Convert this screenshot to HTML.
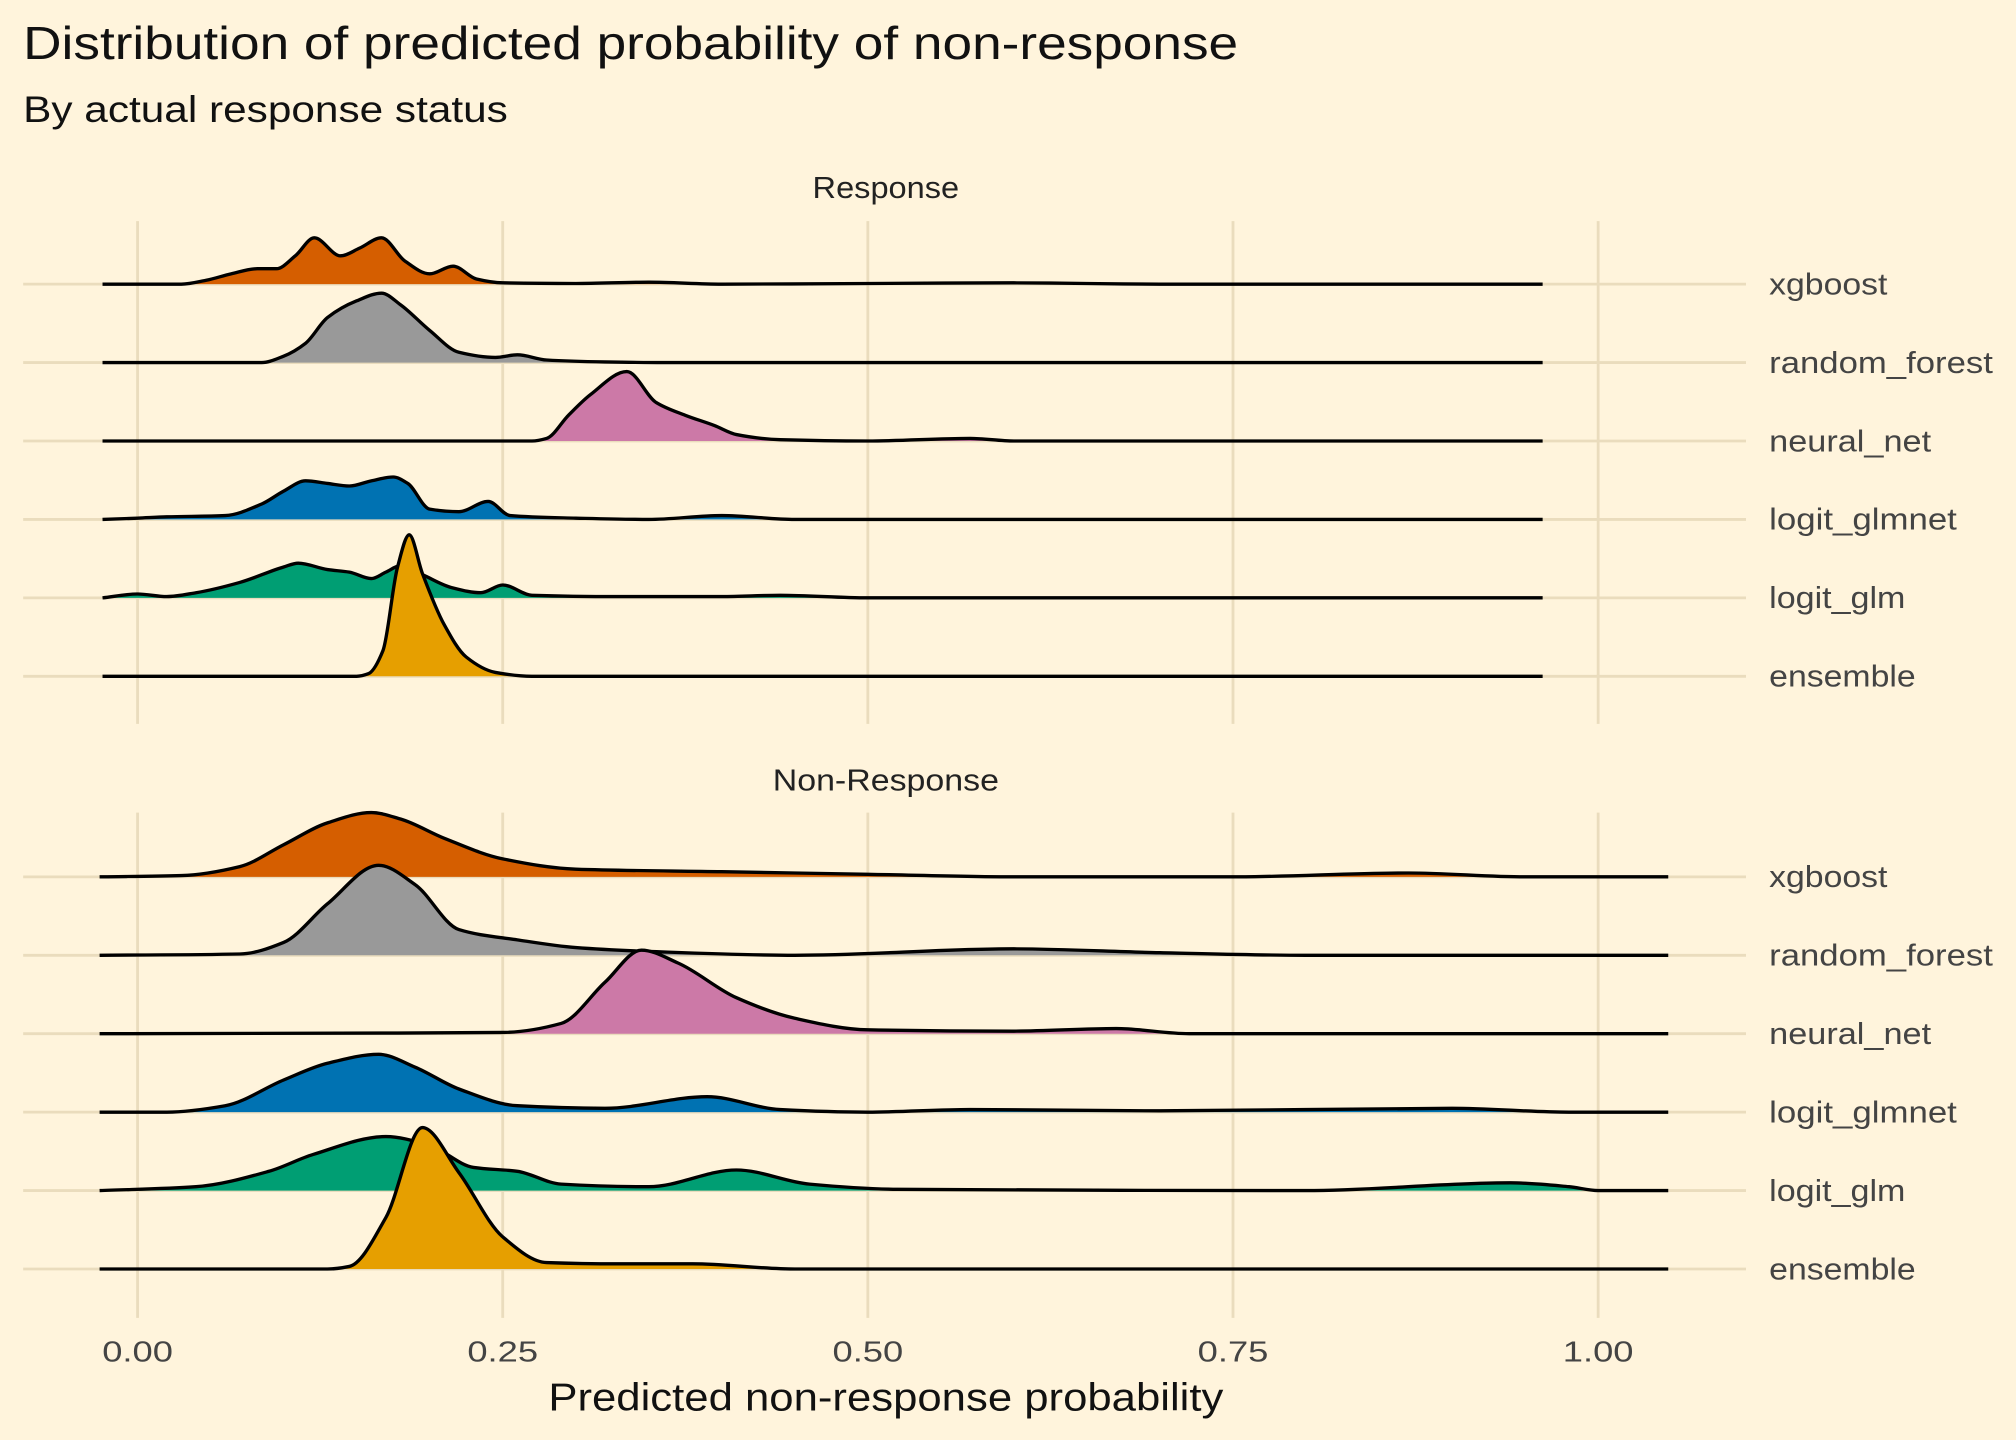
<!DOCTYPE html>
<html><head><meta charset="utf-8">
<style>
html,body{margin:0;padding:0;background:#fff4dc;}
svg{display:block;font-family:"Liberation Sans",sans-serif;}
</style></head>
<body>
<svg id="chart" width="2016" height="1440" viewBox="0 0 1568 1120" xmlns="http://www.w3.org/2000/svg">
<rect width="1568" height="1120" fill="#fff4dc"/>
<text x="18" y="46" font-size="36" textLength="945" lengthAdjust="spacingAndGlyphs" fill="#111">Distribution of predicted probability of non-response</text>
<text x="18" y="95" font-size="29" textLength="377" lengthAdjust="spacingAndGlyphs" fill="#111">By actual response status</text>
<text x="689" y="154" font-size="24" textLength="114" lengthAdjust="spacingAndGlyphs" fill="#222" text-anchor="middle">Response</text>
<text x="689" y="615" font-size="24" textLength="176" lengthAdjust="spacingAndGlyphs" fill="#222" text-anchor="middle">Non-Response</text>
<text x="689" y="1097" font-size="30" textLength="525" lengthAdjust="spacingAndGlyphs" fill="#111" text-anchor="middle">Predicted non-response probability</text>
<g id="grid"></g>
<g id="marks"></g>
<g id="labels"></g>
</svg>
<script>
const models = ["xgboost","random_forest","neural_net","logit_glmnet","logit_glm","ensemble"];
const colors = ["#D55E00","#999999","#CC79A7","#0072B2","#009E73","#E69F00"];
const xTicks = [0, 0.25, 0.5, 0.75, 1.0];
const xTickLabels = ["0.00","0.25","0.50","0.75","1.00"];
const labelWidths = [92,174,126,146,106,114];
// density values (x, density) for Response panel
const respXgboost = [[-0.024,0],[0.03,0],[0.047,0.3],[0.064,0.8],[0.082,1.2],[0.095,1.2],[0.108,2.2],[0.121,3.6],[0.139,2.2],[0.152,2.8],[0.167,3.6],[0.183,1.8],[0.2,0.8],[0.216,1.4],[0.232,0.4],[0.25,0.1],[0.3,0.05],[0.35,0.15],[0.4,0],[0.5,0.05],[0.6,0.1],[0.7,0],[0.962,0]];
const respRandomForest = [[-0.024,0],[0.085,0],[0.1,0.5],[0.115,1.5],[0.13,3.5],[0.15,4.8],[0.167,5.4],[0.18,4.5],[0.2,2.5],[0.22,0.8],[0.245,0.4],[0.26,0.6],[0.28,0.2],[0.32,0.05],[0.36,0],[0.962,0]];
const respNeuralNet = [[-0.024,0],[0.27,0],[0.28,0.2],[0.295,2.0],[0.31,3.6],[0.335,5.4],[0.355,3.0],[0.375,2.0],[0.395,1.2],[0.41,0.5],[0.44,0.1],[0.5,0],[0.57,0.2],[0.6,0],[0.962,0]];
const respLogitGlmnet = [[-0.024,0],[0.0,0.1],[0.02,0.2],[0.06,0.3],[0.085,1.2],[0.1,2.2],[0.115,3.0],[0.13,2.8],[0.145,2.6],[0.16,3.0],[0.175,3.3],[0.185,2.8],[0.2,0.8],[0.22,0.6],[0.24,1.4],[0.255,0.3],[0.3,0.1],[0.35,0],[0.4,0.3],[0.45,0],[0.962,0]];
const respLogitGlm = [[-0.024,0],[0.0,0.3],[0.02,0.1],[0.04,0.4],[0.07,1.2],[0.1,2.4],[0.11,2.7],[0.13,2.2],[0.145,2.0],[0.16,1.5],[0.17,2.0],[0.18,2.5],[0.195,1.8],[0.215,0.8],[0.235,0.4],[0.25,1.0],[0.27,0.2],[0.33,0.1],[0.4,0.1],[0.44,0.2],[0.5,0],[0.962,0]];
const respEnsemble = [[-0.024,0],[0.15,0],[0.158,0.2],[0.168,2.0],[0.178,8.5],[0.186,11.0],[0.195,8.0],[0.21,4.0],[0.225,1.5],[0.245,0.3],[0.27,0],[0.962,0]];
// density values for Non-Response panel
const nonXgboost = [[-0.026,0],[0.03,0.1],[0.07,0.8],[0.1,2.5],[0.13,4.2],[0.16,5.0],[0.18,4.5],[0.21,3.0],[0.25,1.4],[0.3,0.6],[0.4,0.4],[0.5,0.2],[0.6,0],[0.75,0],[0.87,0.3],[0.95,0],[1.048,0]];
const nonRandomForest = [[-0.026,0],[0.07,0.1],[0.1,1.0],[0.13,4.0],[0.165,7.0],[0.19,5.5],[0.22,2.0],[0.26,1.2],[0.3,0.6],[0.35,0.3],[0.45,0],[0.6,0.5],[0.7,0.2],[0.8,0],[1.048,0]];
const nonNeuralNet = [[-0.026,0],[0.25,0.1],[0.29,0.8],[0.32,4.0],[0.345,6.5],[0.37,5.5],[0.41,2.8],[0.45,1.2],[0.5,0.3],[0.6,0.2],[0.67,0.4],[0.72,0],[1.048,0]];
const nonLogitGlmnet = [[-0.026,0],[0.02,0],[0.06,0.5],[0.1,2.5],[0.13,3.8],[0.165,4.5],[0.19,3.5],[0.22,1.8],[0.26,0.5],[0.32,0.3],[0.39,1.2],[0.44,0.2],[0.5,0],[0.57,0.2],[0.7,0.1],[0.9,0.3],[0.98,0],[1.048,0]];
const nonLogitGlm = [[-0.026,0],[0.04,0.3],[0.09,1.5],[0.12,2.8],[0.17,4.2],[0.2,3.5],[0.23,1.8],[0.26,1.5],[0.29,0.5],[0.35,0.3],[0.41,1.6],[0.46,0.5],[0.52,0.1],[0.8,0],[0.94,0.6],[0.98,0.3],[1.0,0],[1.048,0]];
const nonEnsemble = [[-0.026,0],[0.13,0],[0.145,0.2],[0.17,4.0],[0.195,11.0],[0.22,7.5],[0.25,2.5],[0.28,0.5],[0.33,0.4],[0.38,0.4],[0.45,0],[1.048,0]];

const respSeries = [respXgboost,respRandomForest,respNeuralNet,respLogitGlmnet,respLogitGlm,respEnsemble];
const nonSeries = [nonXgboost,nonRandomForest,nonNeuralNet,nonLogitGlmnet,nonLogitGlm,nonEnsemble];

const NS="http://www.w3.org/2000/svg";
function xScale(v){return 107 + v*1136;}
const dScale = 10;
const panels = [
  {name:"response", series:respSeries, base0:221, gridTop:172, gridBot:563},
  {name:"non-response", series:nonSeries, base0:682, gridTop:632, gridBot:1025}
];
function rowY(p,i){return p.base0 + i*61;}
function yScale(p,i,d){return rowY(p,i) - d*dScale;}
const grid=document.getElementById('grid'), marks=document.getElementById('marks'), labels=document.getElementById('labels');
function mk(tag,attrs,parent){const e=document.createElementNS(NS,tag);for(const k in attrs)e.setAttribute(k,attrs[k]);parent.appendChild(e);return e;}
// monotone cubic (Fritsch-Carlson) path
function smoothPath(pts){
  const n=pts.length, dx=[], m=[], t=new Array(n).fill(0);
  for(let i=0;i<n-1;i++){dx[i]=pts[i+1][0]-pts[i][0]; m[i]=(pts[i+1][1]-pts[i][1])/dx[i];}
  t[0]=m[0]; t[n-1]=m[n-2];
  for(let i=1;i<n-1;i++){
    if(m[i-1]*m[i]<=0) t[i]=0;
    else { const w1=2*dx[i]+dx[i-1], w2=dx[i]+2*dx[i-1]; t[i]=(w1+w2)/(w1/m[i-1]+w2/m[i]); }
  }
  let d="M"+pts[0][0].toFixed(2)+","+pts[0][1].toFixed(2);
  for(let i=0;i<n-1;i++){
    const h=dx[i]/3;
    d+=" C"+(pts[i][0]+h).toFixed(2)+","+(pts[i][1]+t[i]*h).toFixed(2)+" "+(pts[i+1][0]-h).toFixed(2)+","+(pts[i+1][1]-t[i+1]*h).toFixed(2)+" "+pts[i+1][0].toFixed(2)+","+pts[i+1][1].toFixed(2);
  }
  return d;
}
panels.forEach(p=>{
  xTicks.forEach((t,k)=>{
    const l=mk('line',{x1:xScale(t),x2:xScale(t),y1:p.gridTop,y2:p.gridBot,stroke:"#eadcbd","stroke-width":2.2},grid);
    
    
  });
  models.forEach((m,i)=>{
    const l=mk('line',{x1:18,x2:1358,y1:rowY(p,i),y2:rowY(p,i),stroke:"#eadcbd","stroke-width":2.2},grid);
    
    
    const t=mk('text',{x:1376,y:rowY(p,i)+8,"font-size":24,fill:"#444",textLength:labelWidths[i],lengthAdjust:"spacingAndGlyphs"},labels);
    t.textContent=m;
    
    
  });
  p.series.forEach((s,i)=>{
    const pts=s.map(q=>[xScale(q[0]),yScale(p,i,q[1])]);
    const line=smoothPath(pts);
    const base=rowY(p,i);
    const area=line+" L"+pts[pts.length-1][0]+","+base+" L"+pts[0][0]+","+base+" Z";
    const a=mk('path',{d:area,fill:colors[i],stroke:"none"},marks);
    
    
    const ln=mk('path',{d:line,fill:"none",stroke:"#000","stroke-width":2.6,"stroke-linejoin":"round"},marks);
    
    
  });
});
xTicks.forEach((t,k)=>{
  const e=mk('text',{x:xScale(t),y:1059,"font-size":22,fill:"#444","text-anchor":"middle",textLength:55,lengthAdjust:"spacingAndGlyphs"},labels);
  e.textContent=xTickLabels[k];
  
  
});
</script>
</body></html>
